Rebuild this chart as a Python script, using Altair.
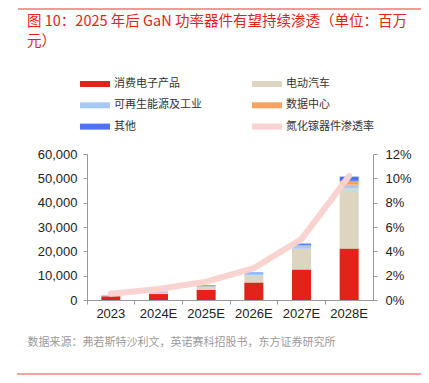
import altair as alt
import pandas as pd

years = ["2023", "2024E", "2025E", "2026E", "2027E", "2028E"]
series = ["消费电子产品", "电动汽车", "可再生能源及工业", "数据中心", "其他"]
consumer = [1500, 2450, 4200, 7200, 12550, 21200]
ev = [150, 500, 1000, 3000, 8500, 24700]
renew = [100, 250, 400, 500, 1100, 1500]
datacenter = [30, 50, 100, 300, 500, 1600]
other = [120, 150, 300, 300, 550, 1700]
rate = [0.0052, 0.009, 0.015, 0.0262, 0.050, 0.102]
rate_name = "氮化镓器件渗透率"
colors = ["#e2231a", "#ded5c0", "#a8c9f7", "#fba15e", "#5070f5", "#f8d3cf"]

title_lines = ["图 10：2025 年后 GaN 功率器件有望持续渗透（单位：百万", "元）"]
source = "数据来源：弗若斯特沙利文，英诺赛科招股书，东方证券研究所"

rows = []
for i, y in enumerate(years):
    for k, (name, vals) in enumerate(zip(series, [consumer, ev, renew, datacenter, other])):
        rows.append({"year": y, "series": name, "value": vals[i], "order": k})
bars_df = pd.DataFrame(rows)
line_df = pd.DataFrame({"year": years, "rate": rate})

CJK = "Noto Sans CJK SC"
LAT = "Liberation Sans"

x_enc = alt.X(
    "year:N",
    sort=years,
    scale=alt.Scale(paddingInner=0, paddingOuter=0),
    axis=alt.Axis(
        title=source,
        titleX=-60,
        titleY=42,
        titleAlign="left",
        titleBaseline="middle",
        titleFont=CJK,
        titleFontSize=11,
        titleFontWeight="normal",
        titleColor="#9a9a9a",
        labelAngle=0,
        bandPosition=0,
        labelPadding=3,
        labelFont=LAT,
        labelFontSize=13,
        labelColor="#222",
        domainColor="#999",
        tickColor="#999",
        tickSize=4,
    ),
)

bars = alt.Chart(bars_df).mark_bar(width=19).encode(
    x=x_enc,
    y=alt.Y(
        "sum(value):Q",
        scale=alt.Scale(domain=[0, 60000]),
        axis=alt.Axis(
            title=None,
            values=[0, 10000, 20000, 30000, 40000, 50000, 60000],
            format=",.0f",
            grid=False,
            labelFont=LAT,
            labelFontSize=13,
            labelColor="#222",
            labelPadding=6,
            domainColor="#999",
            tickColor="#999",
            tickSize=4,
        ),
    ),
    color=alt.Color(
        "series:N",
        scale=alt.Scale(domain=series + [rate_name], range=colors),
        legend=alt.Legend(
            title=None,
            orient="none",
            direction="horizontal",
            legendX=-7,
            legendY=-85,
            columns=2,
            columnPadding=50,
            rowPadding=1.3,
            symbolType="M-1,-0.2H1V0.2H-1Z",
            symbolSize=900,
            symbolStrokeWidth=0,
            labelFont=CJK,
            labelFontSize=11,
            labelColor="#333",
            labelOffset=4,
        ),
    ),
    order=alt.Order("order:Q", sort="ascending"),
)

line = alt.Chart(line_df).mark_line(
    color="#f8d3cf", strokeWidth=6, strokeCap="round", strokeJoin="round"
).encode(
    x=alt.X("year:N", sort=years),
    y=alt.Y(
        "rate:Q",
        scale=alt.Scale(domain=[0, 0.12]),
        axis=alt.Axis(
            title=None,
            orient="right",
            values=[0, 0.02, 0.04, 0.06, 0.08, 0.10, 0.12],
            format=".0%",
            grid=False,
            labelFont=LAT,
            labelFontSize=13,
            labelColor="#222",
            labelPadding=8,
            domainColor="#999",
            tickColor="#999",
            tickSize=4,
        ),
    ),
)

top_rule = alt.Chart(line_df).mark_rule(color="#f09a96", strokeWidth=1.5).encode(
    x=alt.value(-69), x2=alt.value(342), y=alt.value(-145)
)
bottom_rule = alt.Chart(line_df).mark_rule(color="#f2a5a0", strokeWidth=2).encode(
    x=alt.value(-70), x2=alt.value(342), y=alt.value(220)
)

chart = (
    alt.layer(bars, line, top_rule, bottom_rule)
    .resolve_scale(y="independent")
    .properties(
        width=286,
        height=146,
        padding={"left": 79, "top": 146, "right": 48, "bottom": 75},
        autosize=alt.AutoSizeParams(type="none"),
        title=alt.TitleParams(
            text=title_lines,
            anchor="start",
            frame="group",
            dx=-60,
            dy=41,
            offset=0,
            font=CJK,
            fontSize=14.5,
            fontWeight="normal",
            color="#e2231a",
            lineHeight=20,
        ),
    )
    .configure_view(stroke=None)
)

chart.save("out.html", embed_options={"renderer": "svg", "actions": False})
